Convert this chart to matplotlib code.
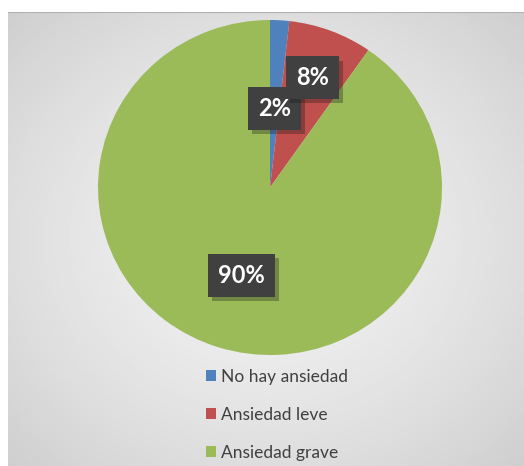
import numpy as np
import matplotlib
matplotlib.use('Agg')
import matplotlib.pyplot as plt
import matplotlib.patheffects as pe
from matplotlib.patches import Patch

# data
labels = ['No hay ansiedad', 'Ansiedad leve', 'Ansiedad grave']
values = [1.8, 7.9, 90.3]
colors = ['#4f81bd', '#c0504d', '#9bbb59']
label_r = [0.47, 0.70, 0.55]

W, H = 524, 466
plt.rcParams['font.family'] = ['Lato', 'DejaVu Sans']
fig = plt.figure(figsize=(W / 100, H / 100), dpi=100)
fig.patch.set_facecolor('white')

# gradient background panel
bg = fig.add_axes([8 / W, 0, (W - 8) / W, (H - 12) / H])
yy, xx = np.mgrid[-1:1:200j, -1:1:200j]
rr = np.sqrt(xx ** 2 + yy ** 2) / np.sqrt(2)
grad = 0.95 - 0.14 * rr ** 1.5
bg.imshow(grad, cmap='gray', vmin=0, vmax=1, extent=[0, 1, 0, 1], aspect='auto')
bg.axhline(1, color='#b0b0b0', lw=1.5)
bg.set_axis_off()

# pie (slightly squashed like the reference)
cx, cy, rx, ry = 270, 187.5, 172, 167.5
ax = fig.add_axes([(cx - rx) / W, (H - cy - ry) / H, 2 * rx / W, 2 * ry / H])
wedges, _ = ax.pie(values, colors=colors, startangle=90, counterclock=False,
                   wedgeprops=dict(linewidth=0))
ax.set_xlim(-1, 1)
ax.set_ylim(-1, 1)
ax.set_aspect('auto')

for w, v, lr in zip(wedges, values, label_r):
    ang = np.deg2rad((w.theta1 + w.theta2) / 2)
    x, y = lr * np.cos(ang), lr * np.sin(ang)
    t = ax.text(x, y, f'{v:.0f}%', ha='center', va='center', fontsize=17,
                fontweight='bold', color='white',
                bbox=dict(boxstyle='square,pad=0.42', fc='#404040', ec='none'))
    t.get_bbox_patch().set_path_effects(
        [pe.SimplePatchShadow(offset=(3, -3), alpha=0.3), pe.Normal()])

handles = [Patch(facecolor=c, edgecolor='none') for c in colors]
fig.legend(handles, labels, loc='upper left', bbox_to_anchor=(190 / W, 1 - 353 / H),
           frameon=False, fontsize=12.5, labelcolor='#404040', handlelength=0.6,
           handleheight=0.6, handletextpad=0.3, labelspacing=1.28)

fig.savefig('out.png', dpi=100, facecolor='white')
